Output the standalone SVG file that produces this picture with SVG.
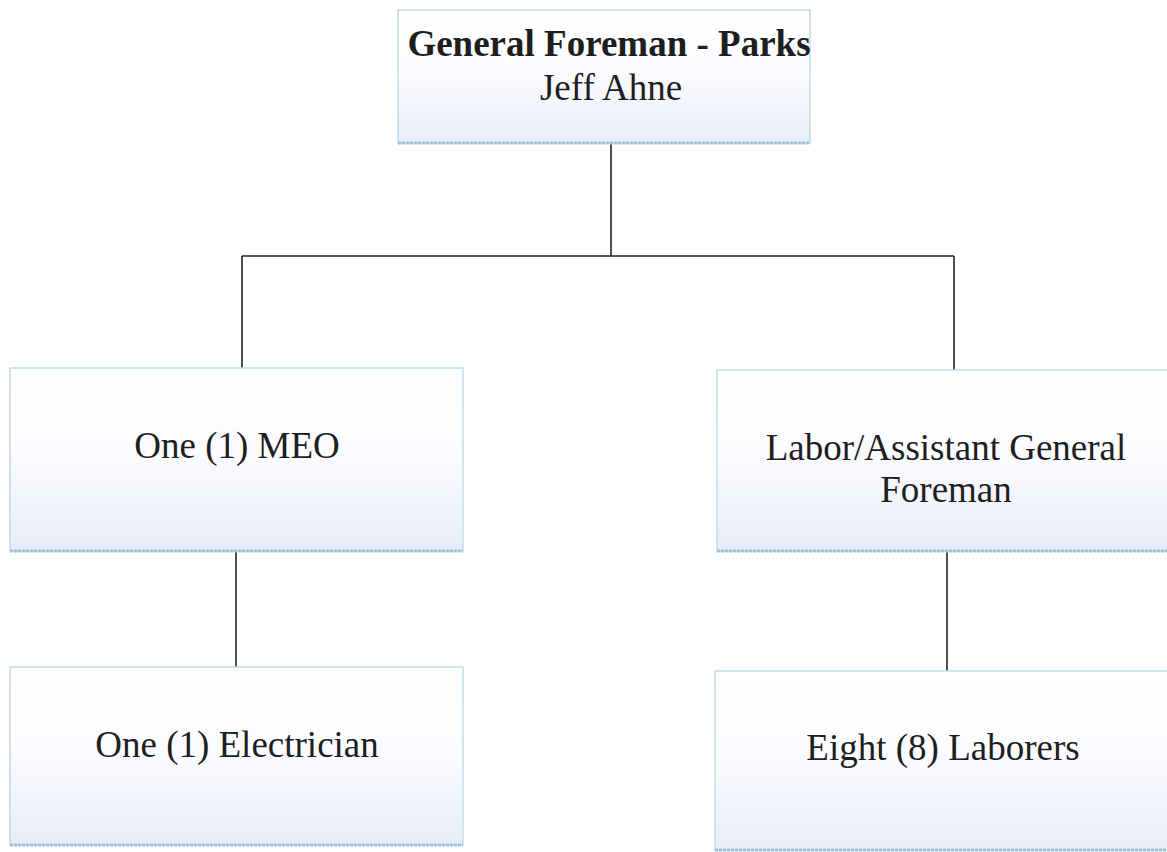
<svg xmlns="http://www.w3.org/2000/svg" width="1167" height="852" viewBox="0 0 1167 852">
  <defs>
    <linearGradient id="boxFill" x1="0" y1="0" x2="0" y2="1">
      <stop offset="0" stop-color="#ffffff"/>
      <stop offset="0.45" stop-color="#fbfcff"/>
      <stop offset="1" stop-color="#e8ecf8"/>
    </linearGradient>
  </defs>
  <style>
    .box { fill: url(#boxFill); stroke: #bfe0e8; stroke-width: 1.5; }
    .edge { stroke: #9cc3de; stroke-width: 3; stroke-dasharray: 3 1; }
    .label { font-family: "Liberation Serif", "Times New Roman", serif; font-size: 37px; fill: #1e1e1e; text-anchor: middle; }
    .bold { font-weight: bold; }
    .conn { stroke: #222; stroke-width: 1.6; fill: none; }
  </style>
  <rect width="1167" height="852" fill="#ffffff"/>

  <g id="connectors">
    <path class="conn" d="M611 143 V256 M242 256 H954 M242 256 V368 M954 256 V370"/>
    <path class="conn" d="M236 552 V667"/>
    <path class="conn" d="M947 552 V671"/>
  </g>

  <g id="general-foreman">
    <rect class="box" x="398" y="10" width="412" height="133"/>
    <line class="edge" x1="398" y1="143" x2="810" y2="143"/>
    <text class="label bold" x="609" y="56">General Foreman - Parks</text>
    <text class="label" x="611" y="100">Jeff Ahne</text>
  </g>

  <g id="meo">
    <rect class="box" x="10" y="368" width="453" height="183"/>
    <line class="edge" x1="10" y1="551" x2="463" y2="551"/>
    <text class="label" x="237" y="458">One (1) MEO</text>
  </g>

  <g id="assistant-foreman">
    <rect class="box" x="717" y="370" width="460" height="181"/>
    <line class="edge" x1="717" y1="551" x2="1167" y2="551"/>
    <text class="label" x="946" y="460">Labor/Assistant General</text>
    <text class="label" x="946" y="502">Foreman</text>
  </g>

  <g id="electrician">
    <rect class="box" x="10" y="667" width="453" height="178"/>
    <line class="edge" x1="10" y1="845" x2="463" y2="845"/>
    <text class="label" x="237" y="757">One (1) Electrician</text>
  </g>

  <g id="laborers">
    <rect class="box" x="715" y="671" width="462" height="179"/>
    <line class="edge" x1="715" y1="850" x2="1167" y2="850"/>
    <text class="label" x="943" y="760">Eight (8) Laborers</text>
  </g>
</svg>
